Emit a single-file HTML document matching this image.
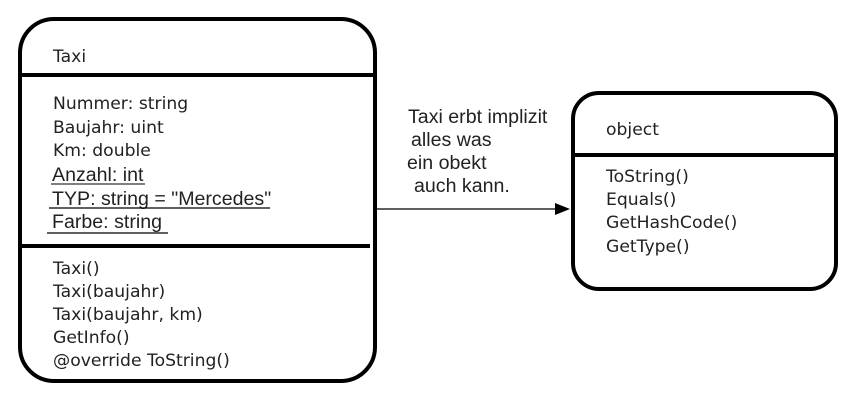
<!DOCTYPE html>
<html><head><style>
body{margin:0;background:#fff;}
</style></head><body>
<svg width="858" height="400" xmlns="http://www.w3.org/2000/svg">
<g font-family="DejaVu Sans, Liberation Sans, sans-serif" font-size="17.2" fill="#222">
<rect x="20" y="19" width="355" height="362" rx="34" fill="none" stroke="#000" stroke-width="4"/>
<line x1="21" y1="75" x2="373" y2="75" stroke="#000" stroke-width="4"/>
<line x1="22" y1="246" x2="370" y2="246" stroke="#000" stroke-width="4"/>
<text x="53" y="62">Taxi</text>
<text x="53" y="109">Nummer: string</text>
<text x="53" y="133">Baujahr: uint</text>
<text x="53" y="156">Km: double</text>
<text x="52" y="181" style="font-family:'Liberation Sans',sans-serif;font-size:19.6px">Anzahl: int</text>
<line x1="51" y1="184" x2="145" y2="184" stroke="#000" stroke-width="1"/>
<text x="52" y="205" style="font-family:'Liberation Sans',sans-serif;font-size:19.6px">TYP: string = "Mercedes"</text>
<line x1="49" y1="208" x2="270" y2="208" stroke="#000" stroke-width="1.3"/>
<text x="52" y="228" style="font-family:'Liberation Sans',sans-serif;font-size:19.6px">Farbe: string</text>
<line x1="47" y1="233" x2="168" y2="233" stroke="#000" stroke-width="1.3"/>
<text x="53" y="274">Taxi()</text>
<text x="53" y="297">Taxi(baujahr)</text>
<text x="53" y="320">Taxi(baujahr, km)</text>
<text x="53" y="343">GetInfo()</text>
<text x="53" y="366">@override ToString()</text>
<line x1="375" y1="209" x2="556" y2="209" stroke="#000" stroke-width="1.3"/>
<polygon points="555,203 570,209 555,215" fill="#000"/>
<g style="font-family:'Liberation Sans',sans-serif;font-size:19.6px">
<text x="408" y="123">Taxi erbt implizit</text>
<text x="411" y="146">alles was</text>
<text x="407" y="169">ein obekt</text>
<text x="414" y="192">auch kann.</text>
</g>
<rect x="573" y="93" width="263" height="196" rx="26" fill="none" stroke="#000" stroke-width="4"/>
<line x1="574" y1="155" x2="835" y2="155" stroke="#000" stroke-width="4"/>
<text x="606" y="135">object</text>
<text x="606" y="182">ToString()</text>
<text x="606" y="205">Equals()</text>
<text x="606" y="228">GetHashCode()</text>
<text x="606" y="252">GetType()</text>
</g>
</svg>
</body></html>
